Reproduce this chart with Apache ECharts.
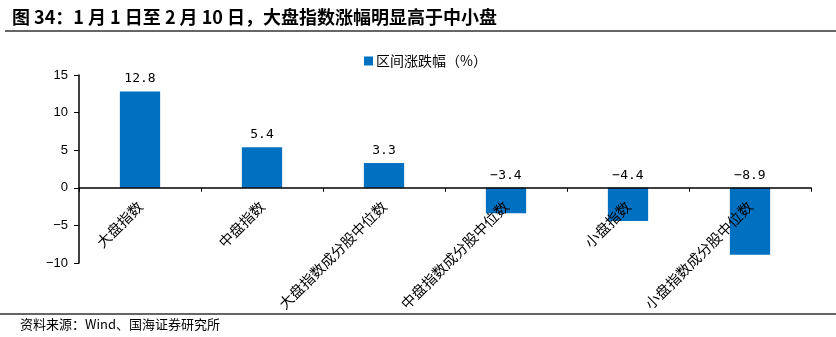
<!DOCTYPE html>
<html>
<head>
<meta charset="utf-8">
<script src="https://cdn.jsdelivr.net/npm/echarts@6/dist/echarts.min.js"></script>
<style>
  html, body { margin: 0; padding: 0; background: #fff; }
  #chart { width: 836px; height: 337px; }
</style>
</head>
<body>
<div id="chart"></div>
<script>
// Index groups and their return over 1 Jan – 10 Feb (%)
const categories = ['大盘指数', '中盘指数', '大盘指数成分股中位数', '中盘指数成分股中位数', '小盘指数', '小盘指数成分股中位数'];
const changes = [12.8, 5.4, 3.3, -3.4, -4.4, -8.9];
const seriesName = '区间涨跌幅（%）';
const yTicks = { min: -10, max: 15, interval: 5 };

const titleText = '图 34：1 月 1 日至 2 月 10 日，大盘指数涨幅明显高于中小盘';
const sourceText = '资料来源：Wind、国海证券研究所';

const fmtMinus = v => String(v).replace('-', '\u2212');

// Plot box; the category axis is lifted from the bottom edge to the zero line
const gridBox = { left: 79, right: 25, top: 75, bottom: 74, height: 337 - 75 - 74 };
const zeroOffset = -gridBox.height * (0 - yTicks.min) / (yTicks.max - yTicks.min);

const chart = echarts.init(document.getElementById('chart'), null, { renderer: 'canvas' });
chart.setOption({
  animation: false,
  backgroundColor: '#ffffff',
  title: {
    text: titleText,
    left: 7,
    top: 3,
    textStyle: { fontSize: 18, fontWeight: 'bold', color: '#000', fontFamily: 'Noto Sans CJK SC, Liberation Sans, sans-serif' }
  },
  graphic: [
    { type: 'line', shape: { x1: 5, y1: 31, x2: 836, y2: 31 }, style: { stroke: '#333', lineWidth: 1.5 } },
    { type: 'line', shape: { x1: 0, y1: 314, x2: 836, y2: 314 }, style: { stroke: '#333', lineWidth: 1.5 } },
    {
      type: 'text', left: 20, top: 318,
      style: { text: sourceText, fontSize: 13, fill: '#000', fontFamily: 'Noto Sans CJK SC, sans-serif' }
    }
  ],
  legend: {
    left: 359,
    top: 49,
    itemWidth: 9,
    itemHeight: 9,
    itemGap: 10,
    icon: 'rect',
    textStyle: { fontSize: 14, color: '#000', fontFamily: 'Noto Sans CJK SC, sans-serif', padding: [0, 0, 0, -2] },
    data: [seriesName]
  },
  grid: { left: gridBox.left, right: gridBox.right, top: gridBox.top, bottom: gridBox.bottom, containLabel: false, outerBoundsMode: 'none' },
  xAxis: {
    type: 'category',
    data: categories,
    offset: zeroOffset,
    z: 5,
    axisLine: { onZero: false, lineStyle: { color: '#000', width: 1.5 } },
    axisTick: { show: true, length: 4, lineStyle: { color: '#000' } },
    axisLabel: {
      interval: 0,
      rotate: 45,
      margin: 16,
      fontSize: 14.5,
      color: '#000',
      fontFamily: 'Noto Sans CJK SC, sans-serif'
    },
    splitLine: { show: false }
  },
  yAxis: {
    type: 'value',
    min: yTicks.min,
    max: yTicks.max,
    interval: yTicks.interval,
    axisLine: { show: true, lineStyle: { color: '#000', width: 1.5 } },
    axisTick: { show: true, length: 5, lineStyle: { color: '#000' } },
    axisLabel: {
      margin: 11,
      fontSize: 13,
      color: '#000',
      fontFamily: 'Liberation Sans, Arial, sans-serif',
      formatter: v => fmtMinus(v)
    },
    splitLine: { show: false }
  },
  series: [{
    name: seriesName,
    type: 'bar',
    data: changes,
    barWidth: '33%',
    itemStyle: { color: '#0070C0' },
    label: {
      show: true,
      position: 'top',
      distance: 6,
      fontSize: 13,
      color: '#000',
      fontFamily: 'DejaVu Sans Mono, Liberation Mono, monospace',
      formatter: p => fmtMinus(p.value.toFixed(1))
    }
  }]
});
</script>
</body>
</html>
